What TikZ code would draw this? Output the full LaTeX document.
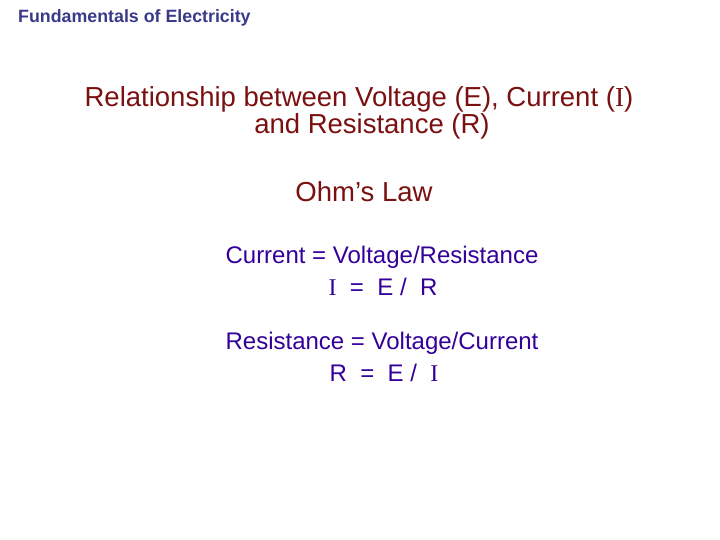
\documentclass[tikz,border=0pt]{standalone}
\usepackage{fontspec}
\setmainfont{Liberation Sans}
\newfontfamily\serifI{Liberation Serif}
\definecolor{hdr}{HTML}{3A3A8A}
\definecolor{ttl}{HTML}{7A1010}
\definecolor{bdy}{HTML}{330099}
\newcommand{\sI}{{\serifI I}}
\begin{document}
\begin{tikzpicture}[x=1pt,y=-1pt,
  hd/.style={font=\fontsize{17.8}{20}\selectfont\bfseries,text=hdr,anchor=west,inner sep=0},
  tt/.style={font=\fontsize{27.5}{30}\selectfont,text=ttl,inner sep=0,align=center},
  bd/.style={font=\fontsize{24}{27}\selectfont,text=bdy,inner sep=0}]
\fill[white] (0,0) rectangle (720,540);
\node[hd] (h) at (18,18) {Fundamentals of Electricity};
\node[tt] (t1) at (359,99) {Relationship between Voltage (E), Current (\sI)};
\node[tt] (t2) at (372,126) {and Resistance (R)};
\node[tt] (o) at (364,192) {Ohm’s Law};
\node[bd] (c1) at (382,257) {Current = Voltage/Resistance};
\node[bd] (c2) at (383,287) {\sI\ \ =\ \ E /\ \ R};
\node[bd] (r1) at (382,343) {Resistance = Voltage/Current};
\node[bd] (r2) at (384,373) {R\ \ =\ \ E\ /\ \ \sI};
\end{tikzpicture}
\end{document}
